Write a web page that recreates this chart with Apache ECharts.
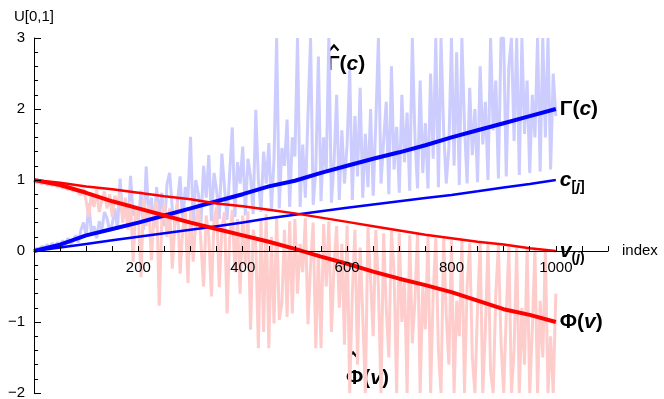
<!DOCTYPE html>
<html>
<head>
<meta charset="utf-8">
<title>U[0,1]</title>
<script src="https://cdn.jsdelivr.net/npm/echarts@6/dist/echarts.min.js"></script>
<style>
  html, body { margin: 0; padding: 0; background: #fff; }
  #main { width: 664px; height: 399px; }
</style>
</head>
<body>
<div id="main"></div>
<script>
// index of the main curves (every 50) and of the noisy estimates (every 5)
const lineIndex = [0, 50, 100, 150, 200, 250, 300, 350, 400, 450, 500,
  550, 600, 650, 700, 750, 800, 850, 900, 950, 1000];
const hatIndex = Array.from({ length: 201 }, (_, k) => k * 5);

// Γ(c), thick blue
const gammaC = [0, 0.09, 0.22, 0.31, 0.40, 0.50, 0.60, 0.70, 0.80, 0.91, 0.99,
  1.10, 1.20, 1.30, 1.39, 1.49, 1.60, 1.70, 1.80, 1.90, 2.0];
// c[j], thin blue
const cSorted = [0, 0.05, 0.10, 0.15, 0.20, 0.25, 0.30, 0.35, 0.40, 0.46, 0.51,
  0.56, 0.61, 0.655, 0.70, 0.745, 0.79, 0.84, 0.895, 0.945, 1.0];
// v(j), thin red
const vSorted = [1, 0.96, 0.91, 0.87, 0.82, 0.77, 0.73, 0.67, 0.63, 0.58, 0.53,
  0.47, 0.41, 0.35, 0.29, 0.23, 0.18, 0.13, 0.09, 0.04, 0];
// Φ(v), thick red
const phiV = [1, 0.93, 0.82, 0.70, 0.60, 0.50, 0.40, 0.31, 0.22, 0.13, 0.03,
  -0.08, -0.18, -0.29, -0.39, -0.48, -0.58, -0.70, -0.82, -0.90, -1.0];

// Γ^(c), light blue noisy estimate
const gammaHat = [
  0.00, 0.04, 0.02, 0.07, 0.03, 0.09, 0.05, 0.11, 0.06, 0.12,
  0.08, 0.15, 0.07, 0.18, 0.10, 0.14, 0.22, 0.12, 0.30, 0.40,
  0.20, 0.67, 0.25, 0.35, 0.18, 0.42, 0.30, 0.55, 0.46, 0.28,
  0.38, 0.60, 0.30, 1.02, 0.45, 0.70, 0.35, 1.06, 0.50, 0.62,
  0.40, 0.85, 0.30, 1.19, 0.45, 0.75, 0.32, 0.90, 0.50, 0.82,
  0.35, 0.95, 1.10, 0.60, 0.36, 0.70, 1.05, 0.40, 0.90, 0.75,
  1.61, 0.38, 1.00, 0.80, 0.40, 1.20, 0.75, 1.35, 0.42, 1.10,
  0.85, 0.45, 1.37, 0.90, 0.44, 1.10, 1.74, 0.48, 1.25, 0.95,
  1.47, 0.50, 1.30, 1.05, 0.52, 1.99, 1.00, 0.55, 1.40, 0.95,
  1.52, 0.58, 1.30, 3.00, 0.60, 1.45, 1.20, 1.85, 0.62, 1.60,
  1.33, 3.00, 0.62, 1.50, 0.75, 1.90, 3.00, 0.65, 1.15, 2.74,
  0.70, 1.60, 1.10, 3.00, 0.68, 1.25, 2.20, 0.72, 1.70, 0.95,
  1.50, 2.55, 0.72, 1.90, 1.05, 2.30, 0.75, 1.65, 0.90, 2.00,
  0.78, 1.80, 3.00, 0.95, 1.55, 2.10, 0.80, 2.60, 1.15, 1.75,
  0.82, 2.20, 1.25, 1.95, 0.85, 3.00, 1.60, 0.88, 2.40, 1.10,
  1.80, 0.88, 2.50, 1.30, 3.00, 0.90, 3.00, 1.70, 0.95, 1.45,
  3.00, 1.20, 2.80, 0.93, 3.00, 1.75, 0.95, 2.30, 1.35, 2.00,
  0.97, 2.60, 1.50, 2.10, 1.00, 3.00, 1.70, 2.40, 1.02, 3.00,
  3.00, 1.05, 2.60, 3.00, 1.55, 3.00, 1.07, 3.00, 1.65, 2.40,
  1.10, 2.20, 1.60, 3.00, 1.12, 3.00, 1.60, 3.00, 1.15, 2.50,
  1.90
];

// Φ^(v), light red noisy estimate
const phiHat = [
  0.99, 0.96, 0.98, 0.94, 0.97, 0.93, 0.95, 0.92, 0.94, 0.90,
  0.93, 0.88, 0.91, 0.86, 0.90, 0.84, 0.88, 0.82, 0.79, 0.87,
  0.70, 0.48, 0.82, 0.62, 0.86, 0.55, 0.72, 0.84, 0.60, 0.80,
  0.48, 0.78, 0.65, 0.82, 0.40, 0.75, 0.30, 0.70, -0.15, 0.60,
  0.50, -0.37, 0.72, 0.35, 0.65, -0.13, 0.55, 0.70, -0.77, 0.45,
  0.68, 0.20, 0.60, -0.25, 0.40, 0.70, -0.32, 0.30, 0.55, -0.45,
  0.60, -0.15, 0.40, 0.66, 0.10, -0.50, 0.50, 0.20, -0.64, 0.45,
  0.62, -0.51, 0.30, 0.55, -0.88, 0.20, 0.58, -0.30, 0.45, -0.60,
  0.50, -0.20, 0.56, -1.11, 0.30, 0.10, -1.37, 0.45, -1.14, 0.52,
  -1.37, 0.20, -1.02, 0.48, -0.97, -0.74, 0.30, -0.93, 0.42, -0.88,
  0.45, -0.60, 0.10, -0.30, 0.46, -1.03, -0.20, 0.40, -1.37, 0.00,
  -1.37, 0.38, -0.50, 0.42, -1.14, -0.20, 0.35, -0.80, 0.10, -1.32,
  0.36, -2.00, -0.60, 0.30, -1.60, 0.05, -0.90, -2.00, 0.33, -0.40,
  -1.20, 0.30, -0.50, -2.00, 0.25, -0.80, -1.50, 0.28, -0.30, -2.00,
  0.26, -1.00, -0.40, -2.00, 0.22, -1.30, -0.70, 0.24, -2.00, -0.50,
  -1.10, 0.22, -2.00, -0.60, 0.18, -1.40, -2.00, 0.20, -0.90, -1.60,
  0.15, -2.00, -0.70, -1.20, 0.17, -2.00, -0.50, 0.12, -1.50, -2.00,
  -0.80, 0.12, -2.00, -1.10, 0.10, -1.70, -2.00, -0.60, 0.08, -1.30,
  -2.00, -0.90, 0.07, -2.00, -1.40, 0.05, -2.00, -0.80, -1.60, 0.04,
  -2.00, -1.10, 0.02, -2.00, -0.70, -1.50, 0.00, -2.00, -1.20, -2.00,
  -0.60
];

const xTickLabels = [200, 400, 600, 800, 1000];
const yTickLabels = ['−2', '−1', '0', '1', '2', '3'];

const FONT = "'Liberation Sans', 'DejaVu Sans', Arial, sans-serif";

// grid edges; the x axis is lifted from the bottom edge up to y = 0
const GRID_TOP = 38;
const GRID_BOTTOM = 6;
const Y_MIN = -2;
const Y_MAX = 3;
const plotHeight = 399 - GRID_TOP - GRID_BOTTOM;
const xAxisLift = -plotHeight * (0 - Y_MIN) / (Y_MAX - Y_MIN);

function zip(xs, ys) {
  return xs.map((x, k) => [x, ys[k]]);
}

// bold label pieces: upright, italic, subscript
const labelRich = {
  u: { fontFamily: FONT, fontSize: 21, fontWeight: 'bold', color: '#000', lineHeight: 28 },
  i: { fontFamily: FONT, fontSize: 21, fontWeight: 'bold', fontStyle: 'italic', color: '#000', lineHeight: 28 },
  s: { fontFamily: FONT, fontSize: 14, fontWeight: 'bold', color: '#000', lineHeight: 28, verticalAlign: 'bottom' },
  si: { fontFamily: FONT, fontSize: 14, fontWeight: 'bold', fontStyle: 'italic', color: '#000', lineHeight: 28, verticalAlign: 'bottom' }
};

function endLabel(text) {
  return { show: true, formatter: text, distance: 4, rich: labelRich };
}

// "hatted" label: text plus a small circumflex over the first letter
function hatLabel(x, y, text, textDy) {
  return {
    type: 'group', left: x, top: y, z: 10,
    children: [
      { type: 'text', x: 0, y: textDy, style: { text: text, rich: labelRich } },
      {
        type: 'polyline',
        shape: { points: [[2.5, 6], [7, 1], [11.5, 6]] },
        style: { stroke: '#000', lineWidth: 2.2, fill: null }
      }
    ]
  };
}

const chart = echarts.init(document.getElementById('main'));

chart.setOption({
  animation: false,
  grid: { left: 34, right: 56, top: GRID_TOP, bottom: GRID_BOTTOM, outerBoundsMode: 'none' },
  xAxis: {
    type: 'value',
    position: 'bottom',
    offset: xAxisLift,
    z: 5,
    min: 0,
    max: 1100,
    interval: 50,
    name: 'index',
    nameLocation: 'end',
    nameGap: 14,
    nameTextStyle: { fontFamily: FONT, fontSize: 15, color: '#000' },
    axisLine: { show: true, onZero: false, lineStyle: { color: '#000', width: 1 } },
    axisTick: { show: true, inside: true, length: 5, lineStyle: { color: '#000' } },
    axisLabel: {
      fontFamily: FONT, fontSize: 15, color: '#000', margin: 9,
      formatter: v => (xTickLabels.indexOf(v) >= 0 ? String(v) : '')
    },
    splitLine: { show: false }
  },
  yAxis: {
    type: 'value',
    z: 5,
    min: Y_MIN,
    max: Y_MAX,
    interval: 1,
    name: 'U[0,1]',
    nameLocation: 'end',
    nameGap: 14,
    nameTextStyle: { fontFamily: FONT, fontSize: 15, color: '#000', align: 'center' },
    axisLine: { show: true, onZero: false, lineStyle: { color: '#000', width: 1 } },
    axisTick: { show: true, inside: true, length: 7, lineStyle: { color: '#000' } },
    minorTick: { show: true, splitNumber: 5, length: 4, lineStyle: { color: '#000' } },
    axisLabel: {
      fontFamily: FONT, fontSize: 15, color: '#000', margin: 9,
      formatter: v => yTickLabels[Math.round(v) - Y_MIN]
    },
    splitLine: { show: false },
    minorSplitLine: { show: false }
  },
  series: [
    {
      name: 'gammaHat', type: 'line', data: zip(hatIndex, gammaHat),
      showSymbol: false, z: 1,
      lineStyle: { color: '#ccccff', width: 3 }
    },
    {
      name: 'phiHat', type: 'line', data: zip(hatIndex, phiHat),
      showSymbol: false, z: 1,
      lineStyle: { color: '#ffcccc', width: 3 }
    },
    {
      name: 'gammaC', type: 'line', data: zip(lineIndex, gammaC),
      showSymbol: false, z: 3,
      lineStyle: { color: '#0000ff', width: 4 },
      endLabel: endLabel('{u|Γ(}{i|c}{u|)}')
    },
    {
      name: 'cSorted', type: 'line', data: zip(lineIndex, cSorted),
      showSymbol: false, z: 3,
      lineStyle: { color: '#0000ff', width: 2.5 },
      endLabel: endLabel('{i|c}{s|[}{si|j}{s|]}')
    },
    {
      name: 'vSorted', type: 'line', data: zip(lineIndex, vSorted),
      showSymbol: false, z: 3,
      lineStyle: { color: '#ff0000', width: 2.5 },
      endLabel: endLabel('{i|v}{s|(}{si|j}{s|)}')
    },
    {
      name: 'phiV', type: 'line', data: zip(lineIndex, phiV),
      showSymbol: false, z: 3,
      lineStyle: { color: '#ff0000', width: 4 },
      endLabel: endLabel('{u|Φ(}{i|v}{u|)}')
    }
  ],
  graphic: [
    hatLabel(327, 43, '{u|Γ(}{i|c}{u|)}', 6),
    hatLabel(346, 350, '{u|Φ(}{i|v}{u|)}', 13)
  ]
});
</script>
</body>
</html>
